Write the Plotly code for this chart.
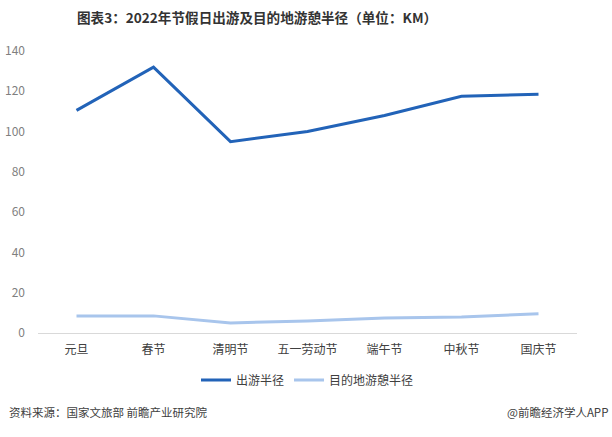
import plotly.graph_objects as go

categories = ["元旦", "春节", "清明节", "五一劳动节", "端午节", "中秋节", "国庆节"]
travel_radius = [110.5, 132, 95, 100, 108, 117.5, 118.5]
dest_radius = [8.5, 8.5, 5, 6, 7.5, 8, 9.5]
y_ticks = [0, 20, 40, 60, 80, 100, 120, 140]

FONT = "Noto Sans CJK SC"

fig = go.Figure()
fig.add_trace(go.Scatter(x=categories, y=travel_radius, mode="lines", name="出游半径",
                         line=dict(color="#2263B8", width=3)))
fig.add_trace(go.Scatter(x=categories, y=dest_radius, mode="lines", name="目的地游憩半径",
                         line=dict(color="#A8C5EC", width=3)))

fig.update_layout(
    width=612, height=437,
    margin=dict(l=38, r=35, t=51, b=104),
    paper_bgcolor="white", plot_bgcolor="white",
    font=dict(family=FONT, size=12, color="#595959"),
    title=dict(text="<b>图表3：2022年节假日出游及目的地游憩半径（单位：KM）</b>",
               x=0.42, xanchor="center", y=0.958, yanchor="middle",
               font=dict(family=FONT, size=13.6, color="#333333")),
    showlegend=True,
    legend=dict(orientation="h", x=0.5, xanchor="center", y=-0.167, yanchor="middle",
                font=dict(family=FONT, size=12, color="#404040"), itemwidth=30),
    xaxis=dict(showgrid=False, showline=True, linecolor="#D9D9D9", linewidth=1,
               range=[-0.5, 6.5], ticklabelstandoff=6, automargin=False,
               ticks="", tickfont=dict(family=FONT, size=12, color="#404040")),
    yaxis=dict(range=[0, 140], tickvals=y_ticks, showgrid=False, zeroline=False,
               showline=False, ticks="", ticklabelstandoff=12, automargin=False,
               tickfont=dict(family=FONT, size=12, color="#7F7F7F")),
)

fig.add_annotation(text="资料来源：国家文旅部 前瞻产业研究院", xref="paper", yref="paper",
                   x=0, xanchor="left", y=-0.28, yanchor="middle", showarrow=False,
                   xshift=-31, font=dict(family=FONT, size=11.5, color="#404040"))
fig.add_annotation(text="@前瞻经济学人APP", xref="paper", yref="paper",
                   x=1, xanchor="right", y=-0.28, yanchor="middle", showarrow=False,
                   xshift=33, font=dict(family=FONT, size=11.5, color="#404040"))

fig.write_html("out.html", config={"displayModeBar": False},
               post_script="document.body.style.margin='0';")
